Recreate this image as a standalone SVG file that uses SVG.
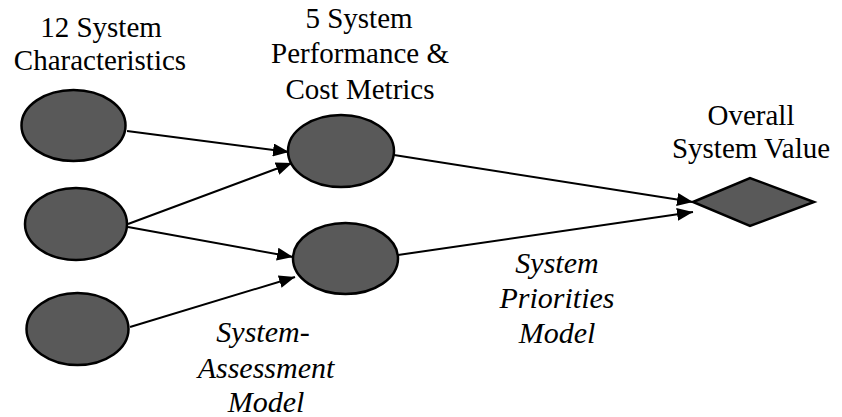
<svg xmlns="http://www.w3.org/2000/svg" width="842" height="417" viewBox="0 0 842 417">
<style>
.node{fill:#595959;stroke:#000;stroke-width:2.5}
.t{font-family:'Liberation Serif','Times New Roman',Times,'DejaVu Serif',serif;font-size:29px;fill:#000;text-anchor:middle}
.i{font-style:italic;font-size:30px}
.c{stroke:#000;stroke-width:2;fill:none;marker-end:url(#ah)}
</style>
<defs>
<marker id="ah" markerUnits="userSpaceOnUse" markerWidth="17" markerHeight="13" refX="16" refY="6.5" orient="auto">
<path d="M0,0 L16,6.5 L0,13 z" fill="#000"/>
</marker>
</defs>
<rect width="842" height="417" fill="#fff"/>
<g id="labels" font-family="Liberation Serif, Times New Roman, DejaVu Serif, serif">
<text class="t" x="101" y="37">12 System</text>
<text class="t" x="100" y="70">Characteristics</text>
<text class="t" x="359" y="28">5 System</text>
<text class="t" x="360" y="63">Performance &amp;</text>
<text class="t" x="360" y="99">Cost Metrics</text>
<text class="t" x="751" y="125">Overall</text>
<text class="t" x="751" y="158">System Value</text>
<text class="t i" x="263" y="342">System-</text>
<text class="t i" x="266" y="378">Assessment</text>
<text class="t i" x="266" y="412">Model</text>
<text class="t i" x="557" y="273">System</text>
<text class="t i" x="557" y="308">Priorities</text>
<text class="t i" x="557" y="343">Model</text>
</g>
<g id="connectors">
<line class="c" x1="127" y1="131" x2="289" y2="152"/>
<line class="c" x1="128" y1="224" x2="292" y2="163"/>
<line class="c" x1="128" y1="227" x2="293" y2="257"/>
<line class="c" x1="130" y1="327" x2="295" y2="277"/>
<line class="c" x1="394" y1="155" x2="693" y2="202"/>
<line class="c" x1="398" y1="255" x2="693" y2="212"/>
</g>
<g id="char1"><ellipse class="node" cx="73.5" cy="125.5" rx="52" ry="35.5"/></g>
<g id="char2"><ellipse class="node" cx="76" cy="224" rx="51" ry="36"/></g>
<g id="char3"><ellipse class="node" cx="77.5" cy="329" rx="51" ry="36"/></g>
<g id="metric1"><ellipse class="node" cx="341" cy="151" rx="53" ry="36"/></g>
<g id="metric2"><ellipse class="node" cx="345.5" cy="258.5" rx="52.5" ry="35.5"/></g>
<g id="value"><polygon class="node" points="693,202 750,178 814,202 750,226"/></g>
</svg>
